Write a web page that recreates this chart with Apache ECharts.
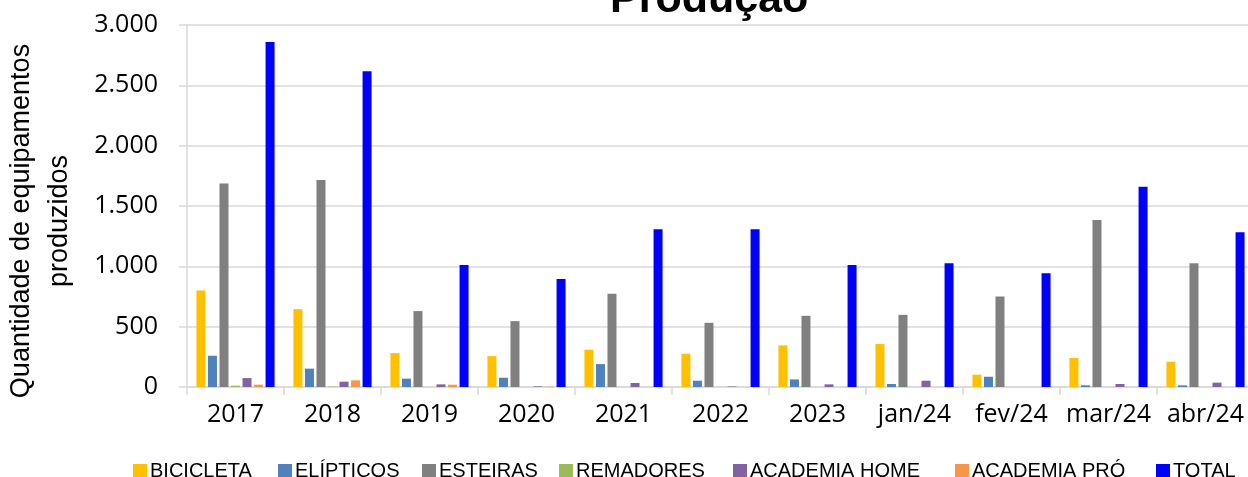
<!DOCTYPE html>
<html>
<head>
<meta charset="utf-8">
<script src="https://cdn.jsdelivr.net/npm/echarts@6/dist/echarts.min.js"></script>
<style>
  html, body { margin: 0; padding: 0; background: #fff; }
  #chart { width: 1248px; height: 477px; }
</style>
</head>
<body>
<div id="chart"></div>
<script>
const categories = ["2017", "2018", "2019", "2020", "2021", "2022", "2023", "jan/24", "fev/24", "mar/24", "abr/24"];
const bicicleta   = [800, 645, 281, 256, 309, 276, 345, 356, 102, 240, 210];
const elipticos   = [259, 152, 69, 77, 190, 52, 63, 25, 85, 14, 14];
const esteiras    = [1687, 1715, 629, 546, 772, 532, 590, 598, 750, 1384, 1026];
const remadores   = [11, 3, 0, 0, 0, 0, 0, 0, 0, 0, 0];
const academiaHome = [74, 44, 22, 5, 33, 4, 22, 52, 0, 25, 36];
const academiaPro = [19, 55, 19, 3, 0, 0, 0, 0, 0, 0, 0];
const total       = [2859, 2616, 1012, 896, 1307, 1307, 1012, 1026, 943, 1660, 1282];
const yTicks = [0, 500, 1000, 1500, 2000, 2500, 3000];

const seriesDefs = [
  ["BICICLETA", bicicleta, "#FFC000"],
  ["ELÍPTICOS", elipticos, "#4F81BD"],
  ["ESTEIRAS", esteiras, "#808080"],
  ["REMADORES", remadores, "#9BBB59"],
  ["ACADEMIA HOME", academiaHome, "#8064A2"],
  ["ACADEMIA PRÓ", academiaPro, "#F79646"],
  ["TOTAL", total, "#0000FF"]
];
// left edge of each legend marker
const legendLeft = [133, 278, 422, 559, 733, 955, 1156];

const fmt = v => String(v).replace(/\B(?=(\d{3})+(?!\d))/g, ".");
const font = "'Liberation Sans', Arial, sans-serif";
const labelFont = "'Open Sans', 'Liberation Sans', sans-serif";

const chart = echarts.init(document.getElementById("chart"));
const option = {
  animation: false,
  title: {
    text: "Produção",
    left: 610,
    top: -21,
    padding: 0,
    textStyle: { fontFamily: font, fontWeight: "bold", fontSize: 43, color: "#000" }
  },
  legend: seriesDefs.map((s, i) => ({
    left: legendLeft[i],
    top: 461,
    padding: 0,
    itemWidth: 14,
    itemHeight: 14,
    icon: "rect",
    textStyle: { fontFamily: font, fontSize: 20, color: "#000", padding: [0, 0, 0, -2] },
    data: [s[0]]
  })),
  grid: { left: 187, right: -6, top: 25, bottom: 90, outerBoundsMode: "none", containLabel: false },
  xAxis: {
    type: "category",
    data: categories,
    axisLine: { lineStyle: { color: "#d9d9d9", width: 1.5 } },
    axisTick: { show: true, length: 8, lineStyle: { color: "#d9d9d9", width: 1.5 } },
    axisLabel: { fontFamily: labelFont, fontSize: 25, color: "#000", margin: 15, interval: 0 }
  },
  yAxis: {
    type: "value",
    min: yTicks[0],
    max: yTicks[yTicks.length - 1],
    interval: 500,
    name: "Quantidade de equipamentos\nproduzidos",
    nameLocation: "middle",
    nameGap: 108,
    nameTextStyle: { fontFamily: font, fontSize: 27, color: "#000", lineHeight: 38, padding: [0, 30, 0, 0] },
    axisLine: { show: true, lineStyle: { color: "#d9d9d9", width: 1.5 } },
    axisTick: { show: true, length: 8, lineStyle: { color: "#d9d9d9", width: 1.5 } },
    axisLabel: { fontFamily: labelFont, fontSize: 25, color: "#000", margin: 29, formatter: fmt },
    splitLine: { lineStyle: { color: "#d9d9d9", width: 1.5 } }
  },
  series: seriesDefs.map(([name, data, color]) => ({
    name: name,
    type: "bar",
    data: data,
    barWidth: 9,
    barGap: "28%",
    itemStyle: { color: color }
  }))
};
chart.setOption(option);
</script>
</body>
</html>
